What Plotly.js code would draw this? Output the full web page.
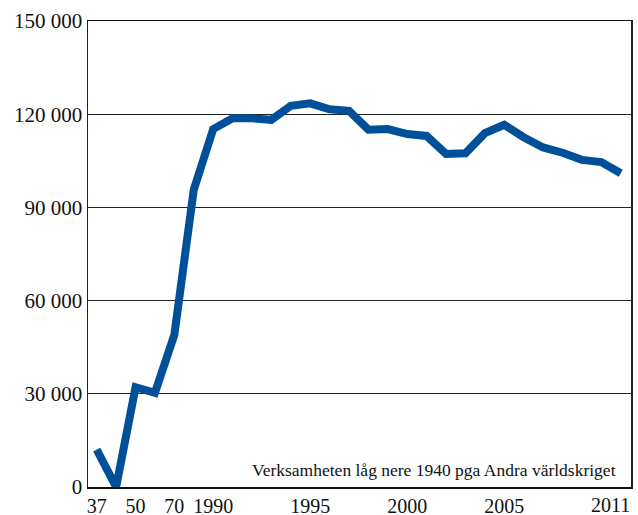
<!DOCTYPE html>
<html>
<head>
<meta charset="utf-8">
<script src="https://cdn.plot.ly/plotly-3.0.1.min.js"></script>
<style>html,body{margin:0;padding:0;background:#fff;}#chart{width:638px;height:515px;}</style>
</head>
<body>
<div id="chart"></div>
<script>
const years = ["37","40","50","60","70","80","1990","1991","1992","1993","1994","1995","1996","1997","1998","1999","2000","2001","2002","2003","2004","2005","2006","2007","2008","2009","2010","2011"];
const values = [12000,0,32100,30300,49000,95700,115200,118700,118700,118200,122700,123500,121600,121100,115000,115200,113600,113000,107200,107400,113900,116600,112600,109300,107600,105300,104600,101000];
const xTickVals = ["37","50","70","1990","1995","2000","2005"];
const xTickText = ["37","50","70","1990","1995","2000","2005"];
const lastTickText = "2011";
const yTickVals = [0,30000,60000,90000,120000,150000];
const yTickText = ["0","30 000","60 000","90 000","120 000","150 000"];
const note = "Verksamheten låg nere 1940 pga Andra världskriget";

const font = "Liberation Serif, Times New Roman, serif";
Plotly.newPlot('chart', [{
  x: years, y: values, type: 'scatter', mode: 'lines',
  line: {color: '#004f99', width: 8},
  hoverinfo: 'skip'
}], {
  width: 638, height: 515,
  margin: {l: 88, r: 7, t: 21, b: 28, pad: 0},
  paper_bgcolor: '#fff', plot_bgcolor: '#fff',
  showlegend: false,
  font: {family: font, size: 21, color: '#111'},
  xaxis: {
    type: 'category', range: [-0.45, 27.53],
    tickmode: 'array', tickvals: xTickVals, ticktext: xTickText,
    showgrid: false, zeroline: false,
    showline: true, linecolor: '#111', linewidth: 1.5, mirror: true,
    ticks: '', ticklen: 0,
    tickfont: {family: font, size: 20, color: '#111'}
  },
  yaxis: {
    range: [0, 150000],
    tickmode: 'array', tickvals: yTickVals, ticktext: yTickText,
    showgrid: true, gridcolor: '#222', gridwidth: 1,
    zeroline: false,
    showline: true, linecolor: '#222', linewidth: 1.5, mirror: true,
    ticks: '', ticklen: 0,
    tickfont: {family: font, size: 21, color: '#111'}
  },
  annotations: [{
    xref: 'paper', yref: 'paper', x: 0.976, y: 0.0375,
    xanchor: 'right', yanchor: 'middle', showarrow: false,
    text: note, font: {family: font, size: 17.5, color: '#111'}
  }, {
    xref: 'paper', yref: 'paper', x: 1, y: 0,
    xanchor: 'right', yanchor: 'top', yshift: -6, showarrow: false,
    borderpad: 0,
    text: lastTickText, font: {family: font, size: 20, color: '#111'}
  }]
}, {displayModeBar: false, staticPlot: true});
</script>
</body>
</html>
